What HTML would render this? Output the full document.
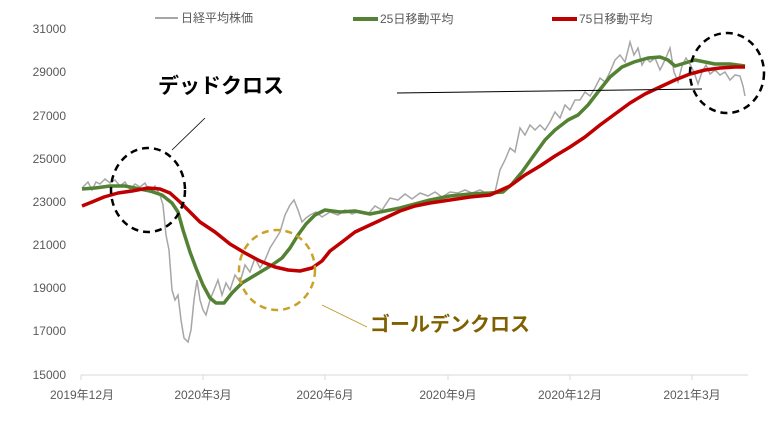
<!DOCTYPE html>
<html><head><meta charset="utf-8"><style>
body{margin:0;background:#fff}
svg{display:block;font-family:"Liberation Sans","Noto Sans CJK JP",sans-serif}
</style></head><body>
<svg width="769" height="428" viewBox="0 0 769 428">
<g font-size="12" fill="#595959" text-anchor="end">
<text x="66" y="33">31000</text><text x="66" y="76">29000</text><text x="66" y="120">27000</text>
<text x="66" y="163">25000</text><text x="66" y="206">23000</text><text x="66" y="249">21000</text>
<text x="66" y="292">19000</text><text x="66" y="335">17000</text><text x="66" y="379">15000</text>
</g>
<line x1="81" y1="375" x2="748" y2="375" stroke="#d9d9d9"/>
<g stroke="#d9d9d9"><line x1="81" y1="375" x2="81" y2="380"/><line x1="203" y1="375" x2="203" y2="380"/><line x1="325" y1="375" x2="325" y2="380"/><line x1="448" y1="375" x2="448" y2="380"/><line x1="570" y1="375" x2="570" y2="380"/><line x1="692" y1="375" x2="692" y2="380"/></g>
<g font-size="12" fill="#595959" text-anchor="middle">
<text x="82" y="399">2019年12月</text><text x="203" y="399">2020年3月</text><text x="325" y="399">2020年6月</text>
<text x="448" y="399">2020年9月</text><text x="570" y="399">2020年12月</text><text x="692" y="399">2021年3月</text>
</g>
<g font-size="12" fill="#595959">
<line x1="155" y1="18" x2="178" y2="18" stroke="#a6a6a6" stroke-width="2"/><text x="181" y="22">日経平均株価</text>
<line x1="353" y1="19" x2="378" y2="19" stroke="#548235" stroke-width="4"/><text x="380" y="23">25日移動平均</text>
<line x1="552" y1="19" x2="577" y2="19" stroke="#c00000" stroke-width="4"/><text x="579" y="23">75日移動平均</text>
</g>
<polyline fill="none" stroke="#a6a6a6" stroke-width="1.5" points="82,188 88,182 92,190 96,182 100,184 105,179 110,183 115,180 120,186 125,182 130,190 135,184 140,187 145,183 150,192 155,186 160,195 163,205 166,235 169,250 172,290 175,300 178,295 181,320 184,338 188,342 191,330 194,300 197,280 200,300 203,310 206,315 210,300 214,290 218,280 222,295 226,283 230,290 235,275 240,282 245,265 250,272 255,258 260,268 265,260 270,248 275,240 280,232 285,215 290,205 294,200 298,210 302,222 306,218 310,215 316,212 322,217 330,212 338,215 345,210 352,214 360,211 368,214 375,206 382,210 390,198 398,200 405,194 412,199 420,193 428,196 435,192 442,197 450,192 458,193 465,190 472,193 480,190 488,194 495,192 500,170 505,160 510,148 515,152 520,128 525,135 530,125 535,130 540,125 545,130 550,122 555,112 560,118 565,105 570,110 575,100 580,100 585,92 590,96 595,88 600,78 605,82 610,72 615,60 620,55 625,62 630,42 634,55 638,48 642,65 646,58 650,62 655,58 660,70 665,60 670,48 674,72 678,82 682,66 686,58 690,64 694,72 698,84 702,72 706,65 710,74 715,70 720,75 725,72 730,80 735,75 740,76 743,86 745,96"/>
<polyline fill="none" stroke="#548235" stroke-width="3.5" stroke-linejoin="round" points="82,189 95,188 110,186 125,186 140,189 150,191 162,195 172,203 178,212 183,230 190,252 196,268 203,285 210,298 216,303 224,303 232,293 242,283 252,277 262,271 272,265 282,258 290,248 298,235 306,224 315,215 325,210 340,212 355,211 370,214 385,211 400,208 415,204 430,200 450,196 470,194 490,193 503,192 512,184 522,172 532,158 545,140 555,130 568,120 578,115 588,105 598,92 610,77 622,67 634,62 648,58 660,57 668,60 675,66 685,63 695,60 705,62 715,64 730,64 745,66"/>
<polyline fill="none" stroke="#c00000" stroke-width="3.5" stroke-linejoin="round" points="82,206 92,202 104,197 118,193 132,191 148,188 160,189 170,193 180,202 190,212 200,222 215,232 230,244 245,253 260,261 275,267 288,270 300,271 312,268 322,261 330,251 342,242 355,232 370,225 385,218 400,211 415,206 430,203 450,200 470,197 490,195 510,186 525,175 540,166 555,156 570,147 585,137 600,125 615,114 630,103 645,94 660,87 675,80 690,74 705,70 720,68 735,67 745,67"/>
<line x1="397" y1="93" x2="702" y2="89" stroke="#000" stroke-width="1"/>
<ellipse cx="148" cy="190" rx="37" ry="42" fill="none" stroke="#000" stroke-width="2.5" stroke-dasharray="7,5"/>
<ellipse cx="727" cy="73" rx="37" ry="40" fill="none" stroke="#000" stroke-width="2.5" stroke-dasharray="7,5"/>
<ellipse cx="277" cy="270" rx="38" ry="40" fill="none" stroke="#c9a227" stroke-width="2.5" stroke-dasharray="7,5"/>
<line x1="172" y1="150" x2="205" y2="118" stroke="#000" stroke-width="0.8"/>
<line x1="322" y1="305" x2="367" y2="327" stroke="#b8961e" stroke-width="0.8"/>
<text x="158" y="93" font-size="21" font-weight="bold" fill="#000">デッドクロス</text>
<text x="370" y="331" font-size="20" font-weight="bold" fill="#7f6000">ゴールデンクロス</text>
</svg>
</body></html>
